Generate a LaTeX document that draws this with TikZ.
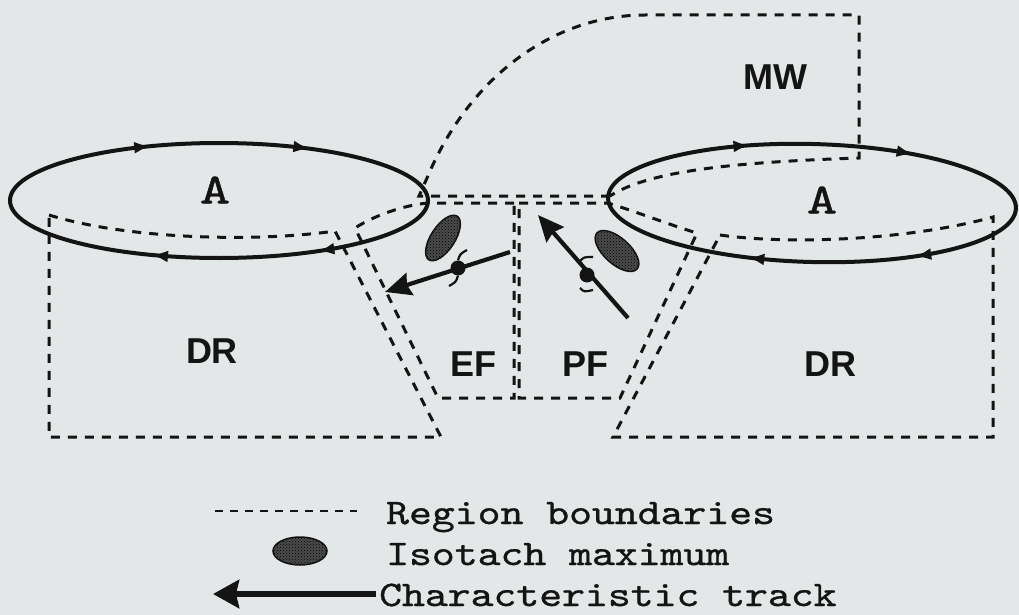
\documentclass[tikz,border=0pt]{standalone}
\usepackage{fontspec}
\setmainfont{Liberation Sans}
\newfontfamily\cour{lmmono10-regular.otf}[FakeBold=0.8]
\usetikzlibrary{arrows.meta,decorations.markings,patterns,shapes.geometric}
\definecolor{bg}{HTML}{E3E7E7}
\definecolor{ink}{HTML}{141414}
\tikzset{orbtip/.tip={Latex[length=16pt,width=12pt]}}
\begin{document}
\begin{tikzpicture}[x=1pt,y=-1pt,
  region/.style={draw=ink, line width=3pt, dash pattern=on 9pt off 8pt},
  orbit/.style={draw=ink, line width=4pt, postaction={decorate}},
  track/.style={draw=ink, line width=4.2pt, -{Stealth[length=26pt,width=23pt,inset=3pt]}},
  lbl/.style={font=\fontsize{36}{40}\selectfont\bfseries, text=ink, inner sep=0pt},
  hi/.style={font=\cour\fontsize{43}{48}\selectfont, text=ink, inner sep=0pt},
  legtext/.style={font=\cour\fontsize{36}{40}\selectfont, text=ink, inner sep=0pt, anchor=base west},
  blob/.style={ellipse, draw=ink, line width=1.5pt, fill=black!70, inner sep=0pt,
    postaction={pattern=crosshatch dots, pattern color=black}},
  dotc/.style={circle, fill=ink, inner sep=0pt, minimum size=15pt},
  swirl/.style={draw=ink, line width=2.2pt},
]
\fill[bg] (0,0) rectangle (1019,615);

% ---------- region boundaries ----------
% left DR
\draw[region] (49,215) .. controls (130,240) and (260,242) .. (335,231) -- (441,437) -- (49,437) -- cycle;
% right DR
\draw[region] (720,235) .. controls (790,245) and (910,240) .. (993,217) -- (993,437) -- (613,437) -- cycle;
% EF
\draw[region] (514,203) -- (428,203) .. controls (405,205) and (375,215) .. (355,228) -- (438,398) -- (514,398) -- cycle;
% PF
\draw[region] (519,203) -- (608,203) .. controls (640,213) and (670,225) .. (697,233) -- (620,398) -- (519,398) -- cycle;
% MW
\draw[region] (610,196) -- (419,196) -- (427,178) .. controls (470,75) and (555,15) .. (645,15) -- (859,15) -- (859,158) .. controls (740,162) and (650,170) .. (610,196);

% ---------- anticyclones ----------
\draw[orbit, decoration={markings,
    mark=at position 0.14 with {\arrow{orbtip}},
    mark=at position 0.324 with {\arrow{orbtip}},
    mark=at position 0.674 with {\arrow{orbtip}},
    mark=at position 0.85 with {\arrow{orbtip}}}]
  (219,200.5) ellipse [x radius=209, y radius=57.5];
\draw[orbit, rotate around={-1.5:(812,203)}, decoration={markings,
    mark=at position 0.132 with {\arrow{orbtip}},
    mark=at position 0.32 with {\arrow{orbtip}},
    mark=at position 0.678 with {\arrow{orbtip}},
    mark=at position 0.862 with {\arrow{orbtip}}}]
  (812,203) ellipse [x radius=204, y radius=59];

\node[hi] (A1) at (215,190) {\scalebox{1.35}[1]{A}};
\node[hi] (A2) at (822,200) {\scalebox{1.35}[1]{A}};

% ---------- region labels ----------
\node[lbl] (DR1) at (212,351) {DR};
\node[lbl] (DR2) at (830,364) {DR};
\node[lbl] (EF) at (473,364) {EF};
\node[lbl] (PF) at (585,364) {PF};
\node[lbl] (MW) at (775,77) {MW};

% ---------- isotach maxima ----------
\node[blob, minimum width=52pt, minimum height=24pt, rotate=57] (iso1) at (443,238) {};
\node[blob, minimum width=54pt, minimum height=26pt, rotate=-42] (iso2) at (617,251) {};

% ---------- characteristic tracks ----------
\coordinate (t1s) at (510,252);
\coordinate (t1e) at (385,292);
\draw[track] (t1s) -- (t1e);
\node[dotc] (c1) at (458,268) {};
\draw[swirl] (c1.north) .. controls (460,254) .. (467,250);
\draw[swirl] (c1.south) .. controls (456,282) .. (449,286);

\coordinate (t2s) at (628,318);
\coordinate (t2e) at (538,215);
\draw[track] (t2s) -- (t2e);
\node[dotc] (c2) at (587,275) {};
\draw[swirl] (580,261) .. controls (584,257) .. (593,257);
\draw[swirl] (580,288) .. controls (584,292) .. (593,290);

% ---------- legend ----------
\coordinate (l1a) at (215,511);
\coordinate (l1b) at (357,511);
\draw[region, dash pattern=on 8pt off 7pt, line width=2.6pt] (l1a) -- (l1b);
\node[legtext] (lt1) at (386,524) {\scalebox{1.21}[1]{Region boundaries}};
\node[blob, minimum width=54pt, minimum height=28pt] (liso) at (300,551) {};
\node[legtext] (lt2) at (386,565) {\scalebox{1.21}[1]{Isotach maximum}};
\coordinate (l3a) at (376,594);
\coordinate (l3b) at (213,594);
\draw[track, line width=6pt, -{Stealth[length=26pt,width=28pt,inset=3pt]}] (l3a) -- (l3b);
\node[legtext] (lt3) at (379,606) {\scalebox{1.21}[1]{Characteristic track}};
\end{tikzpicture}
\end{document}
